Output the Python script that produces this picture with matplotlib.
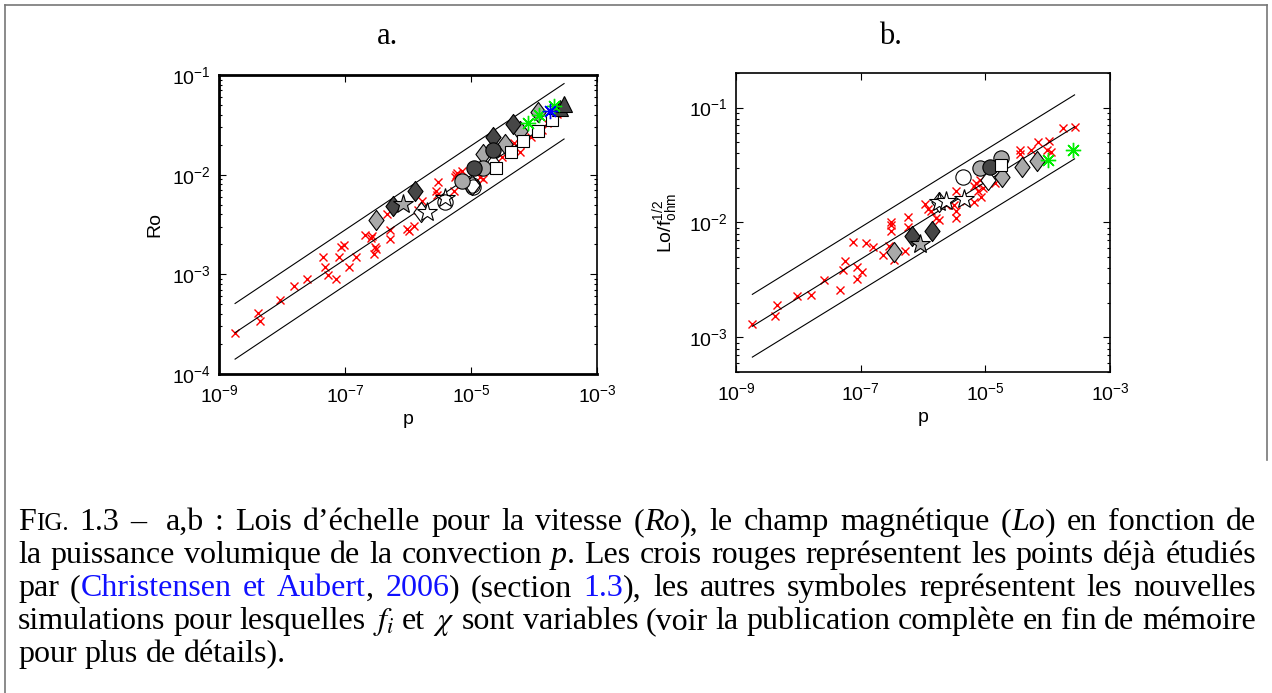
import numpy as np
import matplotlib
matplotlib.use('Agg')
import matplotlib.pyplot as plt
from matplotlib.path import Path
from matplotlib.lines import Line2D
from matplotlib.transforms import IdentityTransform
from matplotlib.ticker import FixedLocator, NullLocator, LogLocator, NullFormatter

plt.rcParams['font.family'] = ['Liberation Sans', 'DejaVu Sans']
plt.rcParams['mathtext.fontset'] = 'custom'
plt.rcParams['mathtext.rm'] = 'Liberation Sans'
plt.rcParams['mathtext.it'] = 'Liberation Sans:italic'

# ---------------- DATA ----------------
# panel a : Ro vs p
a_cross_p = [1.8e-9, 4.2e-9, 4.5e-9, 9.3e-9, 1.55e-8, 2.5e-8, 4.4e-8, 4.9e-8, 5.4e-8, 7.3e-8,
             8.0e-8, 8.5e-8, 9.6e-8, 1.14e-7, 1.5e-7, 2.1e-7, 2.55e-7, 2.7e-7, 3.0e-7, 3.1e-7,
             2.9e-7, 5.1e-7, 5.2e-7, 9.6e-7, 1.04e-6, 1.23e-6, 4.7e-7, 1.46e-6, 1.65e-6, 2.8e-6,
             2.9e-6, 3.0e-6, 5.4e-6, 5.7e-6, 7.1e-6, 5.6e-6, 1.39e-5, 1.53e-5, 3.07e-5, 4.8e-5,
             6.0e-5, 8.9e-5, 1.32e-4, 1.59e-4, 2.3e-4, 6.0e-6, 1.09e-5, 6.0e-5]
a_cross_ro = [2.6e-4, 4.1e-4, 3.4e-4, 5.5e-4, 7.6e-4, 8.9e-4, 1.48e-3, 1.18e-3, 9.9e-4, 8.9e-4,
              1.48e-3, 1.89e-3, 1.98e-3, 1.18e-3, 1.48e-3, 2.47e-3, 2.3e-3, 2.4e-3, 1.89e-3, 1.78e-3,
              1.6e-3, 2.8e-3, 2.25e-3, 2.86e-3, 2.7e-3, 3.04e-3, 4.0e-3, 4.4e-3, 5.4e-3, 6.8e-3,
              6.3e-3, 8.4e-3, 6.8e-3, 9.9e-3, 1.08e-2, 9.5e-3, 9.4e-3, 9.0e-3, 1.51e-2, 2.06e-2,
              1.67e-2, 2.4e-2, 2.8e-2, 3.33e-2, 4.05e-2, 1.03e-2, 7.8e-3, 2.03e-2]

a_ldiam_p = [3.1e-7, 1.57e-5, 3.5e-5, 6.0e-5, 1.17e-4]
a_ldiam_ro = [3.5e-3, 1.61e-2, 2.03e-2, 2.75e-2, 4.3e-2]
a_ddiam_p = [5.8e-7, 1.29e-6, 2.26e-5, 4.7e-5]
a_ddiam_ro = [4.9e-3, 6.8e-3, 2.36e-2, 3.2e-2]
a_odiam_p = [1.58e-6, 1.02e-5, 2.2e-5]
a_odiam_ro = [4.2e-3, 7.8e-3, 1.29e-2]
a_gstar_p = [8.2e-7]
a_gstar_ro = [5.1e-3]
a_ostar_p = [2.0e-6, 3.8e-6]
a_ostar_ro = [4.2e-3, 5.9e-3]
a_ocirc_p = [3.9e-6, 1.03e-5, 1.09e-5]
a_ocirc_ro = [5.3e-3, 7.8e-3, 7.5e-3]
a_gcirc_p = [7.1e-6, 1.57e-5]
a_gcirc_ro = [8.7e-3, 1.18e-2]
a_dcirc_p = [1.12e-5, 2.26e-5]
a_dcirc_ro = [1.18e-2, 1.77e-2]
a_osq_p = [2.5e-5, 4.3e-5, 6.8e-5, 1.17e-4, 1.9e-4]
a_osq_ro = [1.18e-2, 1.67e-2, 2.19e-2, 2.75e-2, 3.52e-2]
a_tri_p = [2.6e-4, 3.0e-4]
a_tri_ro = [4.7e-2, 5.1e-2]
a_green_p = [8.1e-5, 1.22e-4, 2.07e-4]
a_green_ro = [3.29e-2, 3.95e-2, 4.9e-2]
a_blue_p = [1.8e-4]
a_blue_ro = [4.4e-2]

# fitted scaling law and its bounds (end points)
a_fit_p = [1.8e-9, 3.0e-4]
a_fit_hi = [5.1e-4, 8.2e-2]
a_fit_mid = [2.6e-4, 4.1e-2]
a_fit_lo = [1.41e-4, 2.28e-2]

# panel b : Lo/fohm^1/2 vs p
b_cross_p = [1.79e-9, 4.25e-9, 4.5e-9, 9.5e-9, 1.62e-8, 2.6e-8, 4.6e-8, 5.2e-8, 5.6e-8, 7.6e-8,
             8.6e-8, 8.8e-8, 1.04e-7, 1.23e-7, 1.6e-7, 2.3e-7, 2.8e-7, 3.1e-7, 3.1e-7, 3.1e-7,
             3.4e-7, 5.1e-7, 5.8e-7, 5.8e-7, 1.08e-6, 1.19e-6, 1.35e-6, 1.62e-6, 1.83e-6, 2.35e-6,
             3.4e-6, 3.1e-6, 3.4e-6, 3.4e-6, 4.9e-6, 7.2e-6, 8.1e-6, 6.7e-6, 7.6e-6, 9.2e-6,
             8.6e-6, 6.6e-6, 1.42e-5, 3.6e-5, 3.6e-5, 5.5e-5, 7.1e-5, 1.05e-4, 9.6e-5, 1.13e-4,
             1.73e-4, 2.7e-4]
b_cross_lo = [1.31e-3, 1.55e-3, 1.92e-3, 2.28e-3, 2.32e-3, 3.17e-3, 2.6e-3, 3.87e-3, 4.65e-3, 6.7e-3,
              4.14e-3, 3.21e-3, 3.7e-3, 6.6e-3, 6.1e-3, 5.2e-3, 6.3e-3, 1.02e-2, 9.5e-3, 8.5e-3,
              4.7e-3, 5.6e-3, 1.11e-2, 9.2e-3, 1.46e-2, 1.32e-2, 1.26e-2, 1.1e-2, 1.05e-2, 1.43e-2,
              1.89e-2, 1.43e-2, 1.25e-2, 1.1e-2, 1.55e-2, 2.2e-2, 2.35e-2, 2.06e-2, 1.89e-2, 1.99e-2,
              1.68e-2, 1.52e-2, 2.2e-2, 4.3e-2, 3.93e-2, 4.3e-2, 5.0e-2, 5.1e-2, 4.3e-2, 4.14e-2,
              6.6e-2, 6.8e-2]

b_ldiam_p = [3.4e-7, 1.86e-5, 3.9e-5, 6.65e-5]
b_ldiam_lo = [5.5e-3, 2.5e-2, 3.07e-2, 3.44e-2]
b_ddiam_p = [6.6e-7, 1.4e-6]
b_ddiam_lo = [7.6e-3, 8.4e-3]
b_odiam_p = [1.8e-6, 1.1e-5]
b_odiam_lo = [1.5e-2, 2.35e-2]
b_gstar_p = [9.0e-7]
b_gstar_lo = [6.5e-3]
b_ostar_p = [1.83e-6, 2.35e-6, 4.6e-6]
b_ostar_lo = [1.52e-2, 1.55e-2, 1.61e-2]
b_ocirc_p = [4.4e-6]
b_ocirc_lo = [2.5e-2]
b_gcirc_p = [8.1e-6, 1.81e-5]
b_gcirc_lo = [3.0e-2, 3.67e-2]
b_dcirc_p = [1.17e-5]
b_dcirc_lo = [3.07e-2]
b_osq_p = [1.77e-5]
b_osq_lo = [3.18e-2]
b_green_p = [1.0e-4, 2.53e-4]
b_green_lo = [3.5e-2, 4.3e-2]

b_fit_p = [1.83e-9, 2.7e-4]
b_fit_hi = [2.37e-3, 0.129]
b_fit_mid = [1.25e-3, 0.068]
b_fit_lo = [6.74e-4, 0.0358]

# ---------------- FIGURE ----------------
W, H = 1272, 693
fig = plt.figure(figsize=(W / 100, H / 100), dpi=100)
fig.patch.set_facecolor('white')

def px_axes(x0, y0, x1, y1):
    # axes from pixel box (top-left origin)
    return fig.add_axes([x0 / W, 1 - y1 / H, (x1 - x0) / W, (y1 - y0) / H])

ax_a = px_axes(219, 75, 597, 374)
ax_b = px_axes(736, 73, 1110, 372)

diamond = Path([(0, 1), (0.75, 0), (0, -1), (-0.75, 0), (0, 1)],
               [Path.MOVETO, Path.LINETO, Path.LINETO, Path.LINETO, Path.CLOSEPOLY])
DARK, LIGHT = '#464646', '#a9a9a9'

def setup(ax, ylim, ylabel):
    ax.set_xscale('log')
    ax.set_yscale('log')
    ax.set_xlim(1e-9, 1e-3)
    ax.set_ylim(*ylim)
    ax.xaxis.set_major_locator(FixedLocator([1e-9, 1e-7, 1e-5, 1e-3]))
    ax.xaxis.set_minor_locator(NullLocator())
    ax.yaxis.set_major_locator(LogLocator(base=10))
    ax.yaxis.set_minor_locator(LogLocator(base=10, subs=np.arange(2, 10)))
    ax.yaxis.set_minor_formatter(NullFormatter())
    ax.tick_params(which='both', direction='in', top=True, right=True, labelsize=14, width=0.8)
    ax.tick_params(which='major', length=5)
    ax.tick_params(which='minor', length=2.5)
    ax.tick_params(axis='x', pad=7)
    ax.tick_params(axis='y', pad=6)
    for s in ax.spines.values():
        s.set_linewidth(1.2)
    ax.set_xlabel('p', fontsize=14, labelpad=4)
    ax.set_ylabel(ylabel, fontsize=14, labelpad=6)

def sc(ax, p, v, marker, face, edge='black', ms=10, mew=0.8):
    ax.plot(p, v, linestyle='none', marker=marker, markerfacecolor=face,
            markeredgecolor=edge, markersize=ms, markeredgewidth=mew)

def cross(ax, p, v):
    ax.plot(p, v, linestyle='none', marker='x', color='red', markersize=5.5, markeredgewidth=1)

def fit(ax, p, *curves):
    for c in curves:
        ax.plot(p, c, color='black', linewidth=0.8)

# ----- panel a -----
setup(ax_a, (1e-4, 1e-1), 'Ro')
for s in ['top', 'left', 'bottom']:
    ax_a.spines[s].set_linewidth(2)
cross(ax_a, a_cross_p, a_cross_ro)
fit(ax_a, a_fit_p, a_fit_hi, a_fit_mid, a_fit_lo)
sc(ax_a, a_ldiam_p, a_ldiam_ro, diamond, LIGHT, ms=14.5)
sc(ax_a, a_ddiam_p, a_ddiam_ro, diamond, DARK, ms=14.5)
sc(ax_a, a_odiam_p, a_odiam_ro, diamond, 'white', ms=14.5)
sc(ax_a, a_gstar_p, a_gstar_ro, '*', LIGHT, ms=15)
sc(ax_a, a_ostar_p, a_ostar_ro, '*', 'white', ms=15)
sc(ax_a, a_ocirc_p, a_ocirc_ro, 'o', 'none', ms=11)
sc(ax_a, a_gcirc_p, a_gcirc_ro, 'o', LIGHT, ms=11)
sc(ax_a, a_dcirc_p, a_dcirc_ro, 'o', DARK, ms=11)
sc(ax_a, a_osq_p, a_osq_ro, 's', 'white', ms=9)
sc(ax_a, a_tri_p, a_tri_ro, '^', DARK, ms=12)
sc(ax_a, a_green_p, a_green_ro, (8, 2, 0), 'none', edge='#00ee00', ms=11, mew=1)
sc(ax_a, a_blue_p, a_blue_ro, (8, 2, 0), 'none', edge='#0000ff', ms=11, mew=1)

# ----- panel b -----
setup(ax_b, (5e-4, 0.2), r'Lo/f$_{\mathregular{ohm}}^{\mathregular{1/2}}$')
cross(ax_b, b_cross_p, b_cross_lo)
fit(ax_b, b_fit_p, b_fit_hi, b_fit_mid, b_fit_lo)
sc(ax_b, b_ldiam_p, b_ldiam_lo, diamond, LIGHT, ms=14.5)
sc(ax_b, b_ddiam_p, b_ddiam_lo, diamond, DARK, ms=14.5)
sc(ax_b, b_odiam_p, b_odiam_lo, diamond, 'white', ms=14.5)
sc(ax_b, b_gstar_p, b_gstar_lo, '*', LIGHT, ms=15)
sc(ax_b, b_ostar_p, b_ostar_lo, '*', 'white', ms=15)
sc(ax_b, b_ocirc_p, b_ocirc_lo, 'o', 'none', ms=11)
sc(ax_b, b_gcirc_p, b_gcirc_lo, 'o', LIGHT, ms=11)
sc(ax_b, b_dcirc_p, b_dcirc_lo, 'o', DARK, ms=11)
sc(ax_b, b_osq_p, b_osq_lo, 's', 'white', ms=9)
sc(ax_b, b_green_p, b_green_lo, (8, 2, 0), 'none', edge='#00ee00', ms=11, mew=1)

# panel letters
SERIF = 'Liberation Serif'
fig.text(388 / W, 1 - 37 / H, 'a.', family=SERIF, fontsize=22, ha='center', va='center')
fig.text(890 / W, 1 - 37 / H, 'b.', family=SERIF, fontsize=22, ha='center', va='center')

# frame
for xs, ys in [([5, 5], [5, 693]), ([5, 1267], [5, 5]), ([1267, 1267], [5, 460])]:
    fig.add_artist(Line2D([x / W for x in xs], [1 - y / H for y in ys],
                          color='#777777', linewidth=1.2))

# ---------------- CAPTION (justified) ----------------
FS = 23
BLUE = '#1010ff'
styles = {
    'n': dict(family=SERIF, fontsize=FS),
    'i': dict(family=SERIF, fontsize=FS, style='italic'),
    'b': dict(family=SERIF, fontsize=FS, color=BLUE),
    'sc': dict(family=SERIF, fontsize=FS * 0.78),
    'm': dict(family=SERIF, fontsize=FS, math_fontfamily='stix'),
}

def plain(s):
    return [[(w, 'n')] for w in s.split()]

lines = [
    [[('F', 'n'), ('IG.', 'sc')], [('1.3', 'n')], [('– ', 'n')], [('a,b', 'n')], [(':', 'n')]]
    + plain('Lois d’échelle pour la vitesse')
    + [[('(', 'n'), ('Ro', 'i'), ('),', 'n')]] + plain('le champ magnétique')
    + [[('(', 'n'), ('Lo', 'i'), (')', 'n')]] + plain('en fonction de'),
    plain('la puissance volumique de la convection') + [[('p', 'i'), ('.', 'n')]]
    + plain('Les crois rouges représentent les points déjà étudiés'),
    [[('par', 'n')], [('(', 'n'), ('Christensen', 'b')], [('et', 'b')], [('Aubert', 'b'), (',', 'n')],
     [('2006', 'b'), (')', 'n')], [('(section', 'n')], [('1.3', 'b'), ('),', 'n')]]
    + plain('les autres symboles représentent les nouvelles'),
    plain('simulations pour lesquelles') + [[(r'$f_i$', 'm')], [('et', 'n')], [(r'$\chi$', 'm')]]
    + plain('sont variables (voir la publication complète en fin de mémoire'),
    plain('pour plus de détails).'),
]
baselines = [530, 563, 596, 629, 662]
X0, X1 = 18, 1256

renderer = fig.canvas.get_renderer()
probe = fig.text(0, 0, 'a a', transform=IdentityTransform(), **styles['n'])
w2 = probe.get_window_extent(renderer).width
probe.set_text('aa')
space_w = w2 - probe.get_window_extent(renderer).width
probe.remove()

for k, (words, yb) in enumerate(zip(lines, baselines)):
    built = []
    for word in words:
        runs = []
        for s, st in word:
            t = fig.text(0, H - yb, s, transform=IdentityTransform(), va='baseline', **styles[st])
            runs.append((t, t.get_window_extent(renderer).width))
        built.append(runs)
    widths = [sum(w for _, w in runs) for runs in built]
    last = k == len(lines) - 1
    gap = space_w if last else (X1 - X0 - sum(widths)) / (len(built) - 1)
    x = X0
    for runs, ww in zip(built, widths):
        xr = x
        for t, w in runs:
            t.set_x(xr)
            xr += w
        x += ww + gap

fig.savefig('out.png', dpi=100, facecolor='white')
